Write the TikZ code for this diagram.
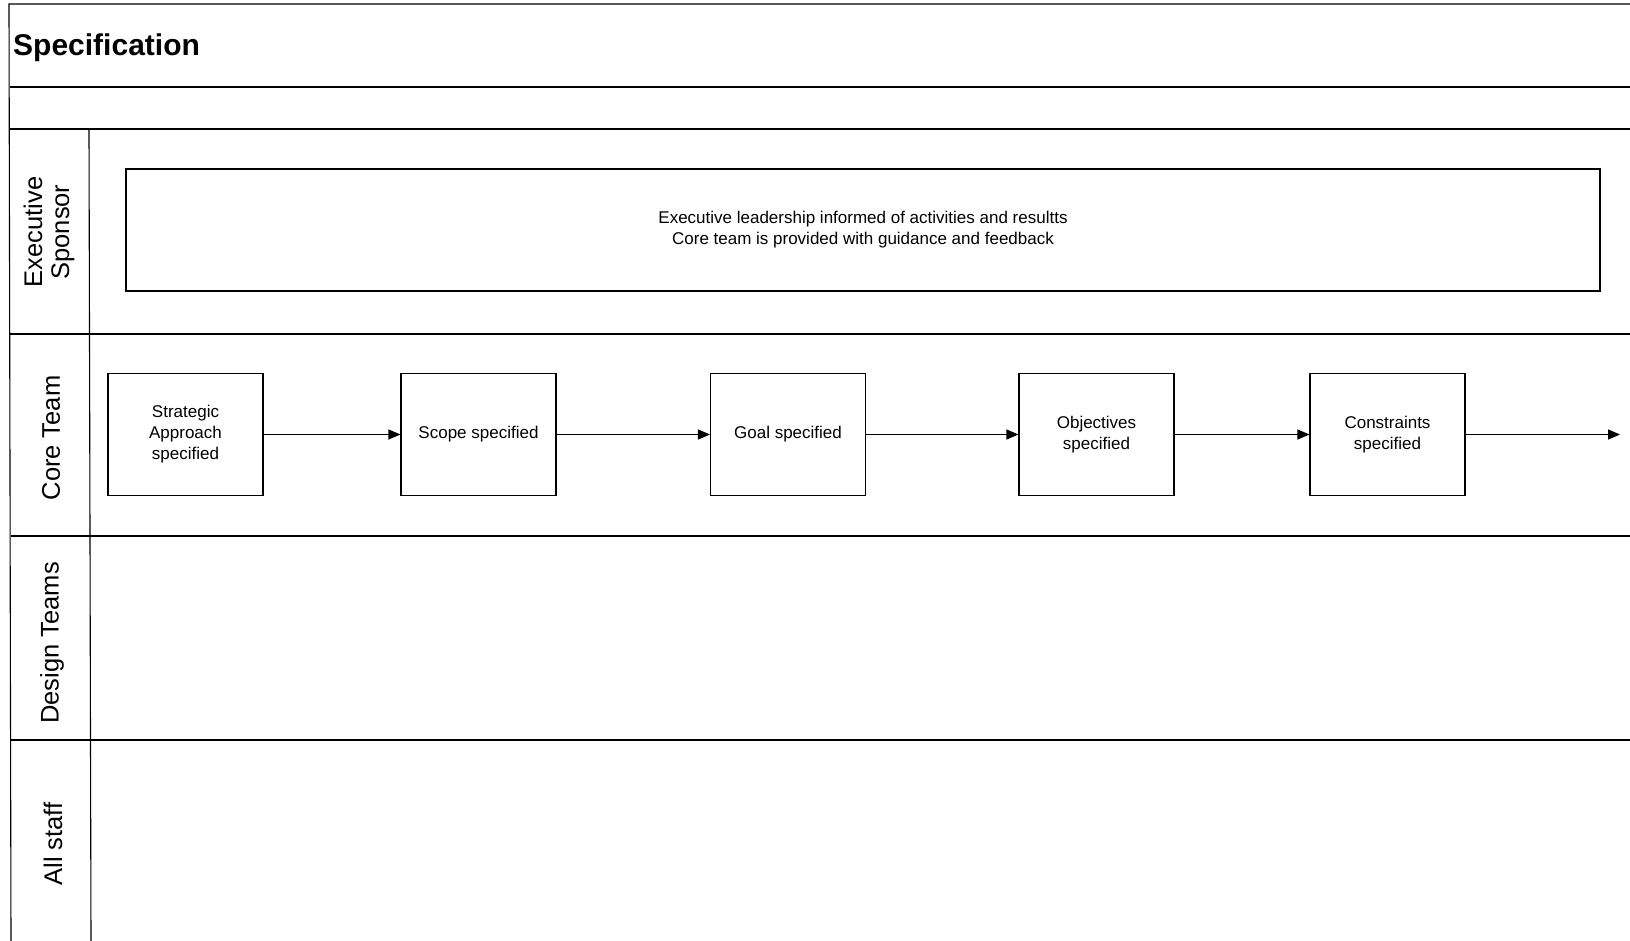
\documentclass[tikz,border=0pt]{standalone}
\usepackage{fontspec}
\setmainfont{Liberation Sans}
\usetikzlibrary{arrows.meta}
\begin{document}
\begin{tikzpicture}[x=1pt,y=-1pt,
  rule/.style={line width=1.1pt, black},
  lanelabel/.style={rotate=90, align=center, font=\fontsize{25.5}{27}\selectfont},
  stepbox/.style={draw, line width=1.1pt, minimum width=155pt, minimum height=122pt,
    align=center, inner sep=2pt, font=\fontsize{17}{21}\selectfont},
  flow/.style={line width=1.1pt, -{Triangle[length=12pt,width=10pt]}}]
  \useasboundingbox (0,0) rectangle (1630,941);
  \fill[white] (0,0) rectangle (1630,941);

  % frame and lane separators
  \draw[rule] (1630,4) -- (9,4) -- (11,941);
  \draw[rule] (10,87) -- (1630,87);
  \draw[rule] (10,129) -- (1630,129);
  \draw[rule] (10,334) -- (1630,334);
  \draw[rule] (11,536) -- (1630,536);
  \draw[rule] (11,740) -- (1630,740);
  \draw[rule] (89,129) -- (91,941);

  % heading
  \node[anchor=base west, inner sep=0pt, font=\fontsize{30}{36}\selectfont\bfseries] (title) at (13,56) {Specification};

  % lane labels
  \node[lanelabel] (lexec) at (49,232) {Executive\\Sponsor};
  \node[lanelabel] (lcore) at (51,438) {Core Team};
  \node[lanelabel] (ldesign) at (52,643) {Design Teams};
  \node[lanelabel] (lstaff) at (53,844) {All staff};

  % executive sponsor lane
  \node[draw, line width=1.1pt, minimum width=1474pt, minimum height=122pt, align=center,
    font=\fontsize{17}{21}\selectfont] (exec) at (863,230)
    {Executive leadership informed of activities and resultts\\Core team is provided with guidance and feedback};

  % core team lane
  \node[stepbox] (s1) at (185.5,434.5) {Strategic\\Approach\\specified};
  \node[stepbox] (s2) at (478.5,434.5) {Scope specified};
  \node[stepbox] (s3) at (788,434.5) {Goal specified};
  \node[stepbox] (s4) at (1096.5,434.5) {Objectives\\specified};
  \node[stepbox] (s5) at (1387.5,434.5) {Constraints\\specified};
  \coordinate (next) at (1620,434.5);

  \draw[flow] (s1) -- (s2);
  \draw[flow] (s2) -- (s3);
  \draw[flow] (s3) -- (s4);
  \draw[flow] (s4) -- (s5);
  \draw[flow] (s5) -- (next);
\end{tikzpicture}
\end{document}
